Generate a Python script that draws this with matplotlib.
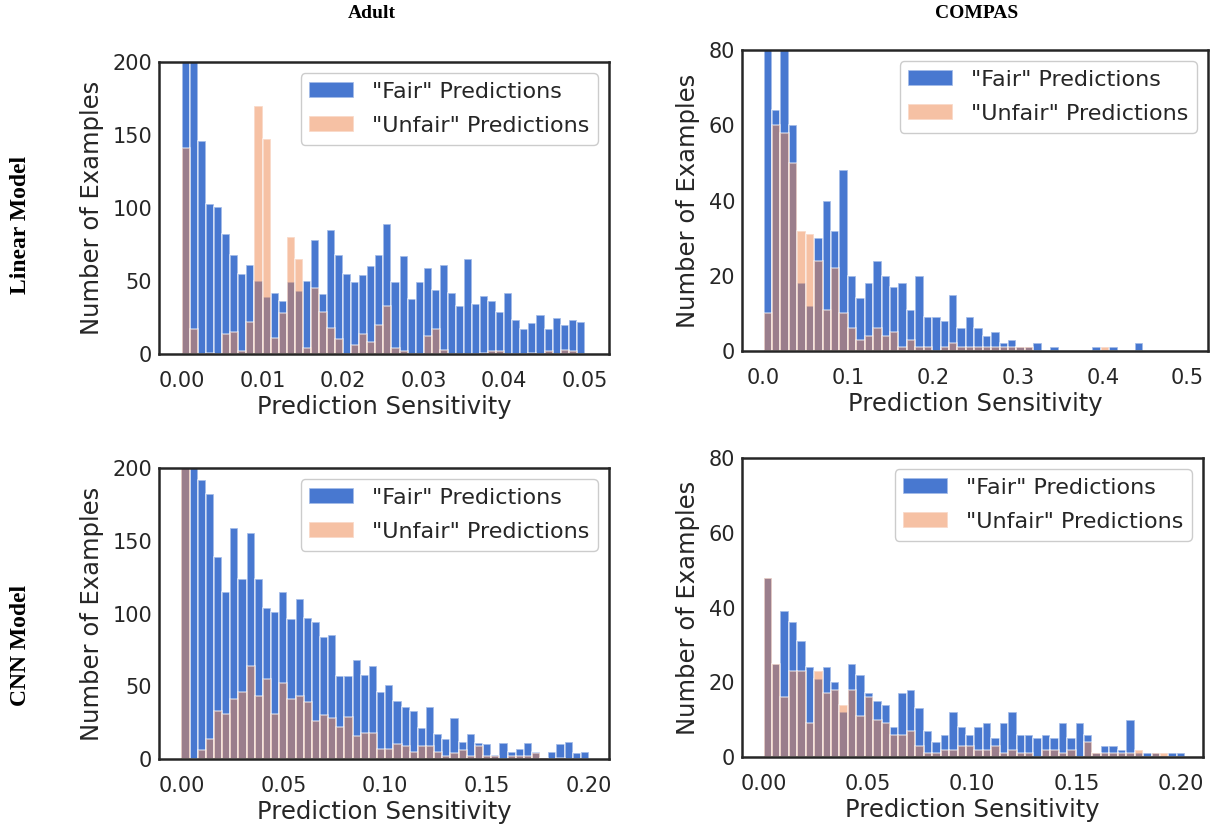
import numpy as np
import matplotlib.pyplot as plt
from matplotlib.ticker import FormatStrFormatter

# ---- histogram counts per bin (50 bins each) ----
# Adult / linear model, bins of width 0.001 over [0, 0.05]
adult_lin_fair = [320, 240, 146, 103, 101, 82, 68, 55, 61, 50,
                  39, 42, 36, 49, 43, 50, 78, 41, 85, 68,
                  55, 49, 54, 60, 68, 89, 49, 67, 38, 49,
                  59, 44, 61, 42, 33, 65, 34, 40, 36, 29,
                  42, 23, 17, 21, 27, 17, 25, 20, 23, 22]
adult_lin_unfair = [141, 17, 0, 1, 0, 14, 15, 2, 22, 170,
                    147, 11, 28, 80, 65, 4, 45, 29, 18, 10,
                    0, 6, 14, 8, 20, 33, 4, 2, 0, 0,
                    12, 17, 3, 0, 0, 0, 0, 1, 2, 2,
                    0, 0, 0, 1, 0, 2, 0, 3, 2, 0]

# COMPAS / linear model
compas_lin_fair = [110, 64, 95, 60, 18, 12, 30, 40, 32, 48,
                   20, 14, 18, 24, 20, 17, 18, 11, 20, 9,
                   9, 8, 15, 6, 9, 6, 4, 5, 2, 3,
                   1, 1, 2, 0, 1, 0, 0, 0, 0, 1,
                   0, 1, 0, 0, 2, 0, 0, 0, 0, 0]
compas_lin_unfair = [10, 60, 58, 50, 32, 31, 24, 11, 22, 10,
                     6, 3, 4, 6, 4, 5, 1, 3, 1, 1,
                     0, 1, 2, 1, 1, 1, 1, 1, 1, 1,
                     1, 1, 0, 0, 0, 0, 0, 0, 0, 0,
                     1, 0, 0, 0, 0, 0, 0, 0, 0, 0]

# Adult / CNN model
adult_cnn_fair = [330, 235, 192, 182, 139, 115, 159, 124, 155, 124,
                  104, 101, 115, 96, 110, 97, 94, 84, 85, 57,
                  57, 68, 58, 64, 46, 51, 40, 36, 33, 21,
                  36, 17, 14, 28, 12, 17, 11, 10, 3, 11,
                  5, 7, 11, 5, 1, 5, 10, 12, 4, 5]
adult_cnn_unfair = [260, 0, 6, 14, 33, 31, 41, 46, 64, 43,
                    55, 31, 52, 41, 43, 39, 26, 30, 28, 22,
                    29, 16, 18, 18, 7, 7, 10, 9, 5, 9,
                    9, 5, 2, 4, 6, 2, 9, 2, 2, 0,
                    2, 2, 2, 4, 1, 0, 1, 0, 0, 0]

# COMPAS / CNN model
compas_cnn_fair = [48, 25, 39, 36, 31, 24, 21, 24, 20, 12,
                   25, 22, 17, 15, 14, 8, 17, 18, 13, 7,
                   4, 6, 12, 8, 6, 8, 9, 5, 9, 12,
                   6, 6, 5, 6, 5, 9, 5, 9, 6, 1,
                   3, 3, 2, 10, 1, 1, 1, 0, 1, 1]
compas_cnn_unfair = [48, 25, 16, 23, 23, 9, 23, 17, 18, 14,
                     18, 11, 16, 10, 9, 6, 6, 7, 3, 1,
                     1, 2, 2, 3, 3, 2, 2, 3, 1, 2,
                     1, 1, 0, 2, 2, 1, 2, 0, 4, 1,
                     1, 1, 1, 1, 2, 0, 1, 1, 0, 0]

# bin ranges
adult_lin_edges = np.linspace(0, 0.05, 51)
compas_lin_edges = np.linspace(0, 0.497, 51)
adult_cnn_edges = np.linspace(0, 0.2, 51)
compas_cnn_edges = np.linspace(0, 0.202, 51)

FAIR_COLOR = '#4878d0'
UNFAIR_COLOR = '#ee854a'
TEXT_COLOR = '#262626'

plt.rcParams['font.family'] = 'DejaVu Sans'


def draw_hist(ax, edges, fair, unfair, xlim, xticks, xfmt, ylim, yticks):
    width = np.diff(edges)
    ax.bar(edges[:-1], fair, width=width, align='edge', color=FAIR_COLOR,
           edgecolor=(1, 1, 1, 0.6), linewidth=1.2, label='"Fair" Predictions')
    ax.bar(edges[:-1], unfair, width=width, align='edge', color=UNFAIR_COLOR,
           alpha=0.5, edgecolor='white', linewidth=1.2, label='"Unfair" Predictions')
    ax.set_xlim(xlim)
    ax.set_ylim(ylim)
    ax.set_xticks(xticks)
    ax.set_yticks(yticks)
    ax.xaxis.set_major_formatter(FormatStrFormatter(xfmt))
    ax.tick_params(axis='both', length=0, labelsize=15, colors=TEXT_COLOR)
    ax.tick_params(axis='x', pad=12)
    ax.tick_params(axis='y', pad=5)
    for sp in ax.spines.values():
        sp.set_color(TEXT_COLOR)
        sp.set_linewidth(1.8)
    ax.set_xlabel('Prediction Sensitivity', fontsize=17.5, color=TEXT_COLOR, labelpad=3)
    ax.set_ylabel('Number of Examples', fontsize=17.5, color=TEXT_COLOR, labelpad=6)
    leg = ax.legend(loc='upper right', fontsize=16, fancybox=True, framealpha=1,
                    edgecolor='#cccccc', handlelength=2.0, handleheight=0.7,
                    labelspacing=0.62)
    for t in leg.get_texts():
        t.set_color(TEXT_COLOR)


W, H = 1217, 830
fig = plt.figure(figsize=(W / 100, H / 100), dpi=100)


def add_axes_px(x0, y0, x1, y1):
    return fig.add_axes([x0 / W, 1 - y1 / H, (x1 - x0) / W, (y1 - y0) / H])


ax1 = add_axes_px(159, 62, 609, 354)
draw_hist(ax1, adult_lin_edges, adult_lin_fair, adult_lin_unfair,
          (-0.00285, 0.053), np.arange(0, 0.051, 0.01), '%.2f', (0, 200), range(0, 201, 50))

ax2 = add_axes_px(742, 50, 1208, 351)
draw_hist(ax2, compas_lin_edges, compas_lin_fair, compas_lin_unfair,
          (-0.0254, 0.524), np.arange(0, 0.51, 0.1), '%.1f', (0, 80), range(0, 81, 20))

ax3 = add_axes_px(159, 468, 609, 759)
draw_hist(ax3, adult_cnn_edges, adult_cnn_fair, adult_cnn_unfair,
          (-0.011, 0.2098), np.arange(0, 0.201, 0.05), '%.2f', (0, 200), range(0, 201, 50))

ax4 = add_axes_px(742, 458, 1203, 757)
draw_hist(ax4, compas_cnn_edges, compas_cnn_fair, compas_cnn_unfair,
          (-0.0103, 0.2105), np.arange(0, 0.201, 0.05), '%.2f', (0, 80), range(0, 81, 20))

# column and row headings
serif = dict(family='Liberation Serif', fontweight='bold', color='black',
             ha='center', va='center')
fig.text(372 / W, 1 - 14 / H, 'Adult', fontsize=14, **serif)
fig.text(977 / W, 1 - 14 / H, 'COMPAS', fontsize=14, **serif)
fig.text(21 / W, 1 - 225 / H, 'Linear Model', fontsize=17, rotation=90, **serif)
fig.text(21 / W, 1 - 645 / H, 'CNN Model', fontsize=17, rotation=90, **serif)

fig.savefig('out.png', dpi=100)
